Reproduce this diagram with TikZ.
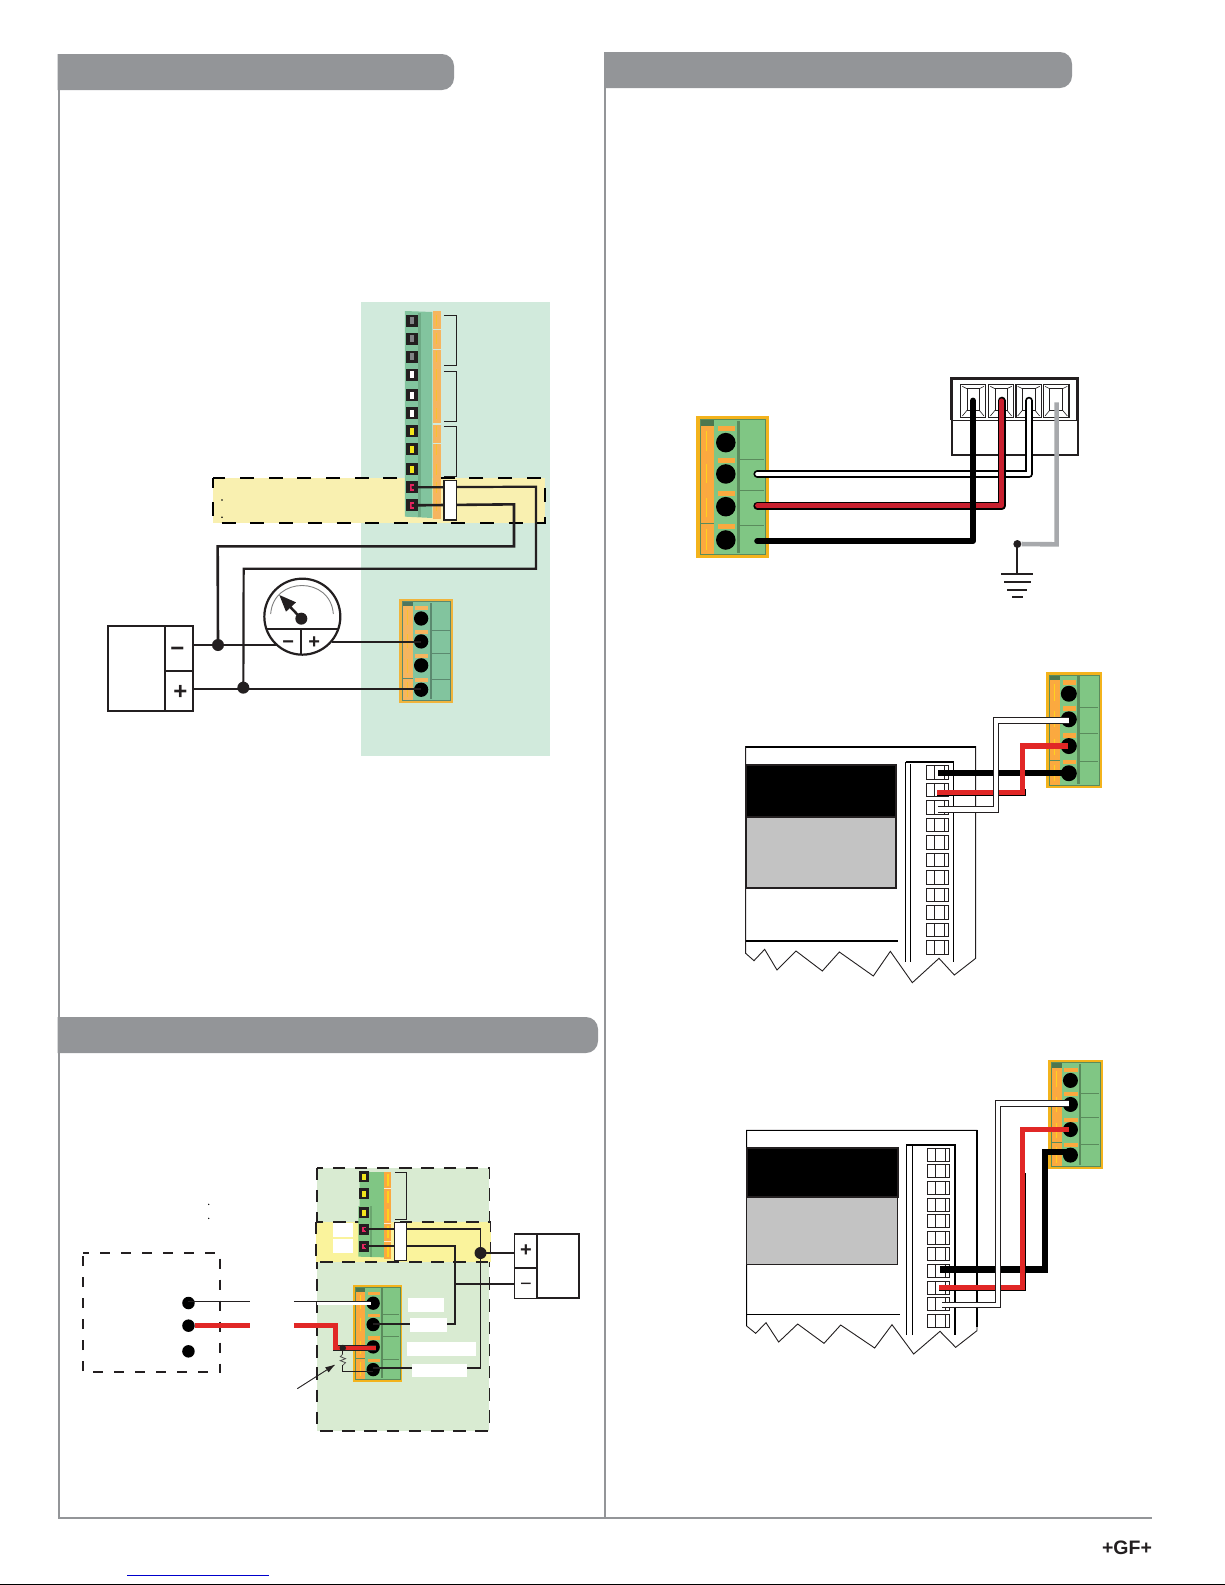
\documentclass[tikz,border=0pt]{standalone}
\usepackage{fontspec}
\setmainfont{Liberation Sans}
\definecolor{hdr}{HTML}{939598}
\definecolor{inkk}{HTML}{231F20}
\definecolor{mintbg}{HTML}{D1EADC}
\definecolor{palegreen}{HTML}{D9EBD2}
\definecolor{bandA}{HTML}{F9F0B0}
\definecolor{bandB}{HTML}{FAF39C}
\definecolor{wirered}{HTML}{E12726}
\definecolor{wiredeep}{HTML}{C8202F}
\definecolor{wiregray}{HTML}{A7A9AC}
\definecolor{linkblue}{HTML}{0000CC}
\definecolor{frameA}{HTML}{F0B43C}\definecolor{orangeA}{HTML}{F6B55F}\definecolor{greenA}{HTML}{82C49E}\definecolor{stripeA}{HTML}{F7C22F}
\definecolor{frameB}{HTML}{F3B31C}\definecolor{orangeB}{HTML}{FBA93F}\definecolor{greenB}{HTML}{80C684}\definecolor{stripeB}{HTML}{FFD21F}
\definecolor{darkA}{HTML}{6FAB86}\definecolor{darkB}{HTML}{6BA66F}
\definecolor{screwgray}{HTML}{808285}\definecolor{screwyellow}{HTML}{F2E51C}\definecolor{screwred}{HTML}{E6245F}
\definecolor{panelgray}{HTML}{C3C3C3}
\tikzset{
  hdrbar/.style={fill=hdr,draw=none},
  rulegray/.style={draw=hdr,line width=2pt},
  wiremid/.style={draw=inkk,line width=2.2pt,line join=miter},
  wirethin/.style={draw=inkk,line width=1.1pt},
  thinink/.style={draw=inkk,line width=0.9pt},
  jdot/.style={circle,fill=inkk,draw=none,minimum size=12pt,inner sep=0pt},
  blackdot/.style={circle,fill=black,draw=none,minimum size=12.5pt,inner sep=0pt},
  pdot/.style={circle,fill=black,draw=none,inner sep=0pt},
  speck/.style={circle,fill=black,draw=none,minimum size=1.8pt,inner sep=0pt},
  signbig/.style={font=\bfseries\fontsize{24}{24}\selectfont,text=inkk,inner sep=0pt},
  signsmall/.style={font=\bfseries\fontsize{20}{20}\selectfont,text=inkk,inner sep=0pt},
  labelgap/.style={fill=white,draw=none},
  wirepath/.style={line join=round,line cap=round},
}
% connector block: #1 name, #2 x0, #3 y0, #4 x1, #5 y1, #6 frame, #7 orange, #8 green, #9 stripe
\newcommand{\conblock}[9]{%
\begin{scope}[shift={(#2,#3)},x={(#4pt-#2pt,0pt)},y={(0pt,#3pt-#5pt)}]
  \fill[#6] (0,0) rectangle (1,1);
  \fill[#7] (.055,.07) rectangle (.25,.98);
  \fill[#8] (.25,.025) rectangle (.955,.975);
  \fill[#8!60!black] (.055,.025) rectangle (.25,.07);
  \draw[#8!70!black,line width=.6pt] (.055,.025) rectangle (.955,.975);
  \fill[#8!70!black] (.565,.035) rectangle (.605,.965);
  \foreach \v in {.306,.527,.772} \draw[#8!70!black,line width=.5pt] (.605,\v) -- (.94,\v);
  \draw[#8!70!black,line width=.5pt] (.055,.76) -- (.25,.76);
  \foreach \a/\b in {.105/.25,.34/.475,.58/.715,.8/.945} \draw[#9,line width=1.1pt] (.15,\a) -- (.15,\b);
  \foreach \a in {.07,.296,.53,.76} \fill[#7] (.3,\a) rectangle (.54,{\a+.038});
  \node[pdot,minimum size={(#5-#3)*.138pt}] (#1a) at (.41,.188) {};
  \node[pdot,minimum size={(#5-#3)*.138pt}] (#1b) at (.41,.409) {};
  \node[pdot,minimum size={(#5-#3)*.138pt}] (#1c) at (.41,.64) {};
  \node[pdot,minimum size={(#5-#3)*.138pt}] (#1d) at (.41,.875) {};
\end{scope}}
% screw terminal of a strip: #1 name, #2 x, #3 y, #4 size in pt, #5 inner colour
\newcommand{\scrw}[5]{%
  \node[fill=inkk,draw=none,inner sep=0pt,minimum size=#4pt] (#1) at (#2,#3) {};
  \fill[#5] ([xshift=-.18*#4pt,yshift=-.27*#4pt]#1.center) rectangle ([xshift=.2*#4pt,yshift=.27*#4pt]#1.center);}
% terminal cell of a controller, in crop units: #1 x0, #2 y0, #3 y1
\newcommand{\tcell}[3]{%
  \draw[thinink,fill=white] (#1,#2) rectangle ({#1+67},#3);
  \draw[thinink] ({#1+24},#2) -- ({#1+24},#3);
  \draw[thinink] ({#1+54},#2) -- ({#1+54},#3);}
% plug cell, in crop units: #1 x0, #2 x1, #3 y0, #4 y1
\newcommand{\plugcell}[4]{%
  \draw[draw=inkk,line width=1.3pt,fill=white] (#1,#3) rectangle (#2,#4);
  \draw[draw=inkk,line width=.6pt] ({#1+19},{#3+12}) rectangle ({#2-19},{#4-22});
  \draw[draw=inkk,line width=.6pt] ({#1+19},{#3+12}) -- ({#1+5},{#3+5});
  \draw[draw=inkk,line width=.6pt] ({#2-19},{#3+12}) -- ({#2-5},{#3+5});
  \draw[draw=inkk,line width=.6pt] ({#1+19},{#4-22}) -- ({#1+5},{#4-5});
  \draw[draw=inkk,line width=.6pt] ({#2-19},{#4-22}) -- ({#2-5},{#4-5});}
\begin{document}
\begin{tikzpicture}[x=1pt,y=-1pt]
\useasboundingbox (0,0) rectangle (1225,1585);
\fill[white] (0,0) rectangle (1225,1585);
% --- page furniture
\draw[rulegray] (59,54) -- (59,1517.5) -- (1152,1517.5);
\draw[rulegray] (605,52) -- (605,1517.5);
\fill[hdrbar] (57.5,54) [rounded corners=12pt] -- (454,54) -- (454,90) [sharp corners] -- (57.5,90) -- cycle;
\fill[hdrbar] (604,52) [rounded corners=12pt] -- (1072,52) -- (1072,88) [sharp corners] -- (604,88) -- cycle;
\fill[hdrbar] (57.5,1017) [rounded corners=12pt] -- (598,1017) -- (598,1053) [sharp corners] -- (57.5,1053) -- cycle;
\node[font=\bfseries\fontsize{19.5}{19.5}\selectfont,text=inkk,inner sep=0pt] (gflogo) at (1127,1547.5) {+GF+};
\draw[linkblue,line width=1pt] (127,1575) -- (268.5,1575);
\draw[black,line width=1.2pt] (0,1584.4) -- (1225,1584.4);
%
% --- panel 1: current loop (crop units: origin 50,290, one third of a pixel)
\begin{scope}[shift={(50,290)},x=.33333pt,y=-.33333pt]
  \fill[mintbg] (933,37) rectangle (1500,1397);
  \fill[bandA] (490,563) rectangle (1486,698);
  \draw[draw=black,line width=1.7pt,dash pattern=on 14pt off 14.7pt,dash phase=4pt] (490,563) rectangle (1486,698);
  \node[speck] (s1) at (516,630) {};
  \node[speck] (s2) at (516,682) {};
  \fill[greenA] (1065,63) -- (1147,66) -- (1147,684) -- (1065,680) -- cycle;
  \fill[darkA] (1105,68) rectangle (1112,680);
  \fill[orangeA] (1149,63) rectangle (1173,687);
  \foreach \y in {118,178,402,460} \draw[mintbg,line width=1.2pt] (1149,\y) -- (1173,\y);
  \foreach \y in {92,146,200,254,316,370,424,478,538,592,646}
    \draw[stripeA,line width=.7pt] (1159,\y-16) -- (1159,\y+16);
  \scrw{ta}{1085}{92}{12}{screwgray}
  \scrw{tb}{1085}{146}{12}{screwgray}
  \scrw{tc}{1085}{200}{12}{screwgray}
  \scrw{td}{1085}{254}{12}{white}
  \scrw{te}{1085}{316}{12}{white}
  \scrw{tf}{1085}{370}{12}{white}
  \scrw{tg}{1085}{424}{12}{screwyellow}
  \scrw{th}{1085}{478}{12}{screwyellow}
  \scrw{ti}{1085}{538}{12}{screwyellow}
  \scrw{tj}{1085}{592}{12}{screwred}
  \scrw{tk}{1085}{646}{12}{screwred}
  \fill[inkk] (1087,590) rectangle (1093,596);
  \fill[inkk] (1087,644) rectangle (1093,650);
  \draw[wirethin] (1182,76) -- (1220,76) -- (1220,226) -- (1182,226);
  \draw[wirethin] (1182,244) -- (1220,244) -- (1220,394) -- (1182,394);
  \draw[wirethin] (1182,409) -- (1220,409) -- (1220,559) -- (1182,559);
  \node[jdot] (j1) at (504,1065) {};
  \node[jdot] (j2) at (580,1193) {};
  \draw[wiremid] (tj.center) -- (1458,590) -- (1458,836) -- (581,836) -- (j2.center);
  \draw[wiremid,line width=2.6pt] (tk.center) -- (1392,643) -- (1392,769) -- (503,769) -- (j1.center);
  \draw[draw=inkk,line width=1.5pt,fill=white] (1182,572) rectangle (1220,690);
  \draw[draw=inkk,line width=2.2pt,fill=white] (174,1009) rectangle (429,1263);
  \draw[draw=inkk,line width=1.8pt] (345,1009) -- (345,1263);
  \draw[draw=inkk,line width=1.8pt] (345,1142) -- (429,1142);
  \node[signbig] (pm) at (382,1085) {−};
  \node[signbig] (pp) at (391,1207) {+};
  \coordinate (pml) at (429,1065);
  \coordinate (ppl) at (429,1197);
  \coordinate (gml) at (680,1065);
  \draw[draw=inkk,line width=1.7pt] (pml) -- (gml);
  \node[circle,draw=inkk,line width=2.2pt,fill=white,minimum size=76pt,inner sep=0pt] (gauge) at (757,980) {};
  \draw[draw=inkk,line width=1.7pt] (650,1016) -- (865,1016);
  \draw[draw=inkk,line width=1.7pt] (753,1020) -- (753,1095);
  \draw[draw=gray,line width=.9pt] (662,972) .. controls (670,858) and (842,858) .. (850,972);
  \draw[draw=inkk,line width=2.5pt] (754,986) -- (720,950);
  \fill[inkk] (688,915) -- (738,937) -- (708,965) -- cycle;
  \node[jdot] (gp) at (754,986) {};
  \node[signsmall] (gm) at (715,1063) {−};
  \node[signsmall] (gpl) at (793,1059) {+};
  \coordinate (gpr) at (845,1056);
\end{scope}
\conblock{ca}{399}{599}{453}{702.7}{frameA}{orangeA}{greenA}{stripeA}
\draw[wiremid] (gpr) -- (cab.center |- gpr);
\draw[draw=inkk,line width=1.7pt] (ppl) -- (ppl -| cad.center);
%
% --- panel 2: PLC loop (crop units: origin 60,1150)
\begin{scope}[shift={(60,1150)},x=.3444pt,y=-.33333pt]
  \fill[palegreen] (746,53) rectangle (1247,843);
  \draw[draw=inkk,line width=1.9pt,dash pattern=on 12.5pt off 9.7pt] (746,53) rectangle (1247,843);
  \fill[bandB] (743,215) rectangle (1250,335);
  \draw[draw=inkk,line width=1.9pt,dash pattern=on 12.5pt off 9.7pt] (743,215) rectangle (1250,335);
  \fill[white] (793,220) rectangle (851,262);
  \fill[white] (793,267) rectangle (851,309);
  \fill[greenB] (870,66) -- (942,66) -- (942,322) -- (866,320) -- (866,168) -- (870,168) -- cycle;
  \fill[darkB] (900,168) rectangle (906,320);
  \fill[orangeB] (942,66) rectangle (961,328);
  \foreach \y in {115,220,275} \draw[white!75!orangeB,line width=.8pt] (942,\y) -- (961,\y);
  \foreach \a/\b in {72/108,123/160,178/212,228/265,285/320}
    \draw[stripeB,line width=1.6pt] (952,\a) -- (952,\b);
  \scrw{pa}{883}{80}{10.5}{screwyellow}
  \scrw{pb}{883}{131}{10.5}{screwyellow}
  \scrw{pc}{883}{188}{10.5}{screwyellow}
  \scrw{pd}{883}{238}{10.5}{screwred}
  \scrw{pe}{883}{289}{10.5}{screwred}
  \fill[inkk] (885,236) rectangle (890,242);
  \fill[inkk] (885,287) rectangle (890,293);
  \draw[wirethin] (972,67) -- (1006,67) -- (1006,208) -- (972,208);
  % left device
  \draw[draw=inkk,line width=1.7pt,dash pattern=on 10pt off 11pt,dash phase=4pt] (67,308) -- (465,308) -- (465,667) -- (67,667) -- cycle;
  \node[blackdot] (da) at (373,459) {};
  \node[blackdot] (db) at (373,527) {};
  \node[blackdot] (dc) at (373,604) {};
  \node[speck,minimum size=1.4pt] (s3) at (432,163) {};
  \node[speck,minimum size=1.4pt] (s4) at (432,205) {};
\end{scope}
\conblock{cb}{353.1}{1285}{402}{1381.7}{frameB}{orangeB}{greenB}{stripeB}
\begin{scope}[shift={(60,1150)},x=.3444pt,y=-.33333pt]
  \node[jdot,minimum size=12pt] (dplus) at (1221,309) {};
  \coordinate (psp) at (1320,309);
  \coordinate (psm) at (1320,401);
  \draw[wiremid,line width=1.9pt] (pd.center) -- (1221,238) -- (1221,654) -- (cbd.center |- 1221,654);
  \draw[wiremid,line width=1.9pt] (pe.center) -- (1148,289) -- (1148,522) -- (cbb.center |- 1148,522);
  \draw[wiremid,line width=1.9pt] (dplus.center) -- (psp);
  \draw[wiremid,line width=1.9pt] (1148,401) -- (psm);
  \draw[draw=inkk,line width=1.2pt,fill=white] (972,217) rectangle (1006,331);
  \fill[labelgap] (1010,444) rectangle (1115,486);
  \fill[labelgap] (1016,504) rectangle (1124,546);
  \fill[labelgap] (1008,576) rectangle (1208,618);
  \fill[labelgap] (1022,642) rectangle (1182,681);
  % power supply
  \draw[draw=inkk,line width=1.2pt,fill=white] (1320,251) rectangle (1386,445);
  \draw[draw=inkk,line width=1.8pt] (1320,354) -- (1386,354);
  \draw[draw=inkk,line width=1.8pt] (1320,251) -- (1507,251) -- (1507,445) -- (1385,445) -- (1385,251);
  \node[signsmall] (ppl2) at (1353,303) {+};
  \node[font=\fontsize{20}{20}\selectfont,text=inkk,inner sep=0pt] (pmn2) at (1353,411) {−};
  % white wire
  \coordinate (wa) at (552,454);
  \coordinate (wb) at (679,454);
  \coordinate (wc) at (900,454);
  \draw[white,line width=3.6pt] (746,461) -- (902,461);
  \draw[draw=inkk,line width=1.1pt] (da.center |- wa) -- (wa);
  \draw[draw=inkk,line width=1.1pt] (wb) -- (wc);
  % red wire
  \coordinate (ra) at (552,527);
  \coordinate (rb) at (679,527);
  \draw[wirered,line width=4.8pt] (db) -- (ra);
  \draw[draw=inkk,line width=.9pt] (808,587) -- (918,587);
  \draw[draw=inkk,line width=.9pt] (793,601) -- (918,601);
  \draw[draw=inkk,line width=1pt] (821,594) -- (821,612);
  \draw[draw=gray!60!black,line width=.8pt] (821,612) -- (814,620) -- (829,626) -- (814,632) -- (829,638) -- (821,646);
  \draw[draw=inkk,line width=.9pt] (821,646) -- (821,664) -- (cbd.center |- 821,664);
  \draw[wirered,line width=4.8pt,line join=miter] (rb) -- (800,527) -- (800,594) -- (918,594);
  \node[circle,fill=inkk,draw=none,minimum size=6.5pt,inner sep=0pt] (rj) at (821,594) {};
  % leader arrow
  \coordinate (la) at (689,716);
  \coordinate (lb) at (797,645);
  \draw[draw=inkk,line width=.9pt] (la) -- (lb);
  \fill[inkk] (797,645) -- (770,652) -- (780,667) -- cycle;
\end{scope}
%
% --- panel 3: sensor plug (crop units: origin 680,370)
\conblock{cc}{696}{416}{768.7}{557.7}{frameB}{orangeB}{greenB}{stripeB}
\begin{scope}[shift={(680,370)},x=.33333pt,y=-.33333pt]
  \draw[draw=inkk,line width=1.8pt,fill=white] (815,25) rectangle (1193,256);
  \draw[draw=inkk,line width=2.4pt] (815,150) -- (815,25) -- (1193,25) -- (1193,150);
  \draw[draw=inkk,line width=.9pt] (815,151) -- (1193,151);
  \plugcell{842}{917}{44}{143}
  \plugcell{926}{1000}{44}{143}
  \plugcell{1008}{1084}{44}{143}
  \plugcell{1090}{1167}{44}{143}
  \coordinate (wwa) at (232,312);  \coordinate (wwb) at (1047,92);
  \coordinate (wra) at (232,407);  \coordinate (wrb) at (965,92);
  \coordinate (wka) at (232,513);  \coordinate (wkb) at (879,92);
  \coordinate (wga) at (1130,97);
  \node[circle,fill=inkk,draw=none,minimum size=8pt,inner sep=0pt] (gnd) at (1012,522) {};
  \draw[wirepath,draw=black,line width=7.8pt] (wwa) -- (1047,312) -- (wwb);
  \draw[wirepath,draw=white,line width=4.2pt] (wwa) -- (1047,312) -- (wwb);
  \draw[wirepath,draw=black,line width=8pt] (wra) -- (965,407) -- (wrb);
  \draw[wirepath,draw=wiredeep,line width=4.4pt] (wra) -- (965,407) -- (wrb);
  \draw[wirepath,draw=black,line width=6.2pt] (wka) -- (879,513) -- (wkb);
  \draw[draw=wiregray,line width=4.6pt] (wga) -- (1130,523) -- (gnd);
  \coordinate (gb) at (1012,612);
  \draw[draw=inkk,line width=1.8pt] (gnd.center) -- (gb);
  \foreach \y/\a/\b in {612/964/1060,635/972/1052,660/982/1042,680/996/1030}
    \draw[draw=inkk,line width=1.9pt] (\a,\y) -- (\b,\y);
\end{scope}
%
% --- panel 4: controller, first wiring (crop units: origin 730,660)
\conblock{cd}{1046}{672}{1101.7}{787.7}{frameB}{orangeB}{greenB}{stripeB}
\begin{scope}[shift={(730,660)},x=.33333pt,y=-.33333pt]
  \draw[draw=inkk,line width=.9pt,fill=white] (47,260) -- (737,260) -- (737,895) -- (673,945) -- (627,895) -- (547,968) -- (481,874) -- (430,948) -- (328,876) -- (277,933) -- (198,873) -- (141,930) -- (104,868) -- (72,902) -- (47,880) -- cycle;
  \draw[draw=black,line width=1.8pt] (47,260) -- (737,260);
  \draw[draw=inkk,line width=2pt,fill=black] (47,314) rectangle (499,470);
  \draw[draw=inkk,line width=2pt,fill=panelgray] (47,470) rectangle (499,685);
  \draw[draw=black,line width=1.7pt] (47,842) -- (503,842);
  \draw[draw=black,line width=.9pt] (527,905) -- (527,305);
  \draw[draw=black,line width=.9pt] (541,905) -- (541,312);
  \draw[draw=black,line width=.9pt] (670,905) -- (670,305);
  \draw[draw=black,line width=1.7pt] (527,305) -- (671,305);
  \foreach \a/\b in {316/358,370/410,421/463,475/514,526/568,580/619,631/673,685/724,736/778,790/829,841/883}
    \tcell{589}{\a}{\b}
  \coordinate (k4) at (624,336);
  \draw[black,line width=6.2pt] (cdd.center) -- (cdd.center -| k4);
  \draw[draw=black,line width=1.1pt] (1015,251) -- (871,251) -- (871,388);
  \draw[draw=black,line width=1.1pt] (886,388) -- (886,406) -- (622,406);
  \draw[wirered,line width=5.3pt] (1015,258) -- (878,258) -- (878,397) -- (622,397);
  \draw[white,line width=5pt] (1018,181) -- (798,181) -- (798,448) -- (624,448);
  \draw[draw=inkk,line width=1.1pt] (1018,173) -- (791,173) -- (791,439) -- (624,439);
  \draw[draw=inkk,line width=1.1pt] (1018,190) -- (805,190) -- (805,457) -- (624,457);
\end{scope}
%
% --- panel 5: controller, second wiring (crop units: origin 730,1050)
\conblock{ce}{1048}{1060}{1102.7}{1168.7}{frameB}{orangeB}{greenB}{stripeB}
\begin{scope}[shift={(730,1050)},x=.33333pt,y=-.33333pt]
  \draw[draw=inkk,line width=.9pt,fill=white] (50,241) -- (741,241) -- (741,842) -- (677,892) -- (630,844) -- (551,912) -- (486,824) -- (434,894) -- (332,825) -- (282,880) -- (203,822) -- (146,876) -- (108,818) -- (77,850) -- (50,828) -- cycle;
  \draw[draw=black,line width=1.5pt] (50,828) -- (50,241) -- (741,241) -- (741,830);
  \draw[draw=inkk,line width=2pt,fill=black] (50,295) rectangle (503,442);
  \draw[draw=inkk,line width=1.2pt,fill=panelgray] (50,442) rectangle (503,643);
  \draw[draw=inkk,line width=2.2pt] (50,442) -- (503,442);
  \draw[draw=black,line width=.9pt] (50,793) -- (510,793);
  \draw[draw=black,line width=1.6pt] (530,855) -- (530,285) -- (675,285) -- (675,855);
  \draw[draw=black,line width=.9pt] (547,855) -- (547,287);
  \foreach \a/\b in {295/335,343/383,394/434,445/485,493/533,544/584,592/632,643/683,694/734,742/782,793/833}
    \tcell{592}{\a}{\b}
  \coordinate (kk) at (945,306);
  \draw[black,line width=6.4pt,line join=miter] (ced.center |- kk) -- (kk) -- (945,658) -- (631,658);
  \draw[draw=black,line width=1.1pt] (1017,232) -- (871,232) -- (871,370);
  \draw[draw=black,line width=1.1pt] (887,370) -- (887,720) -- (627,720);
  \draw[wirered,line width=5.6pt] (1017,239) -- (878,239) -- (878,712) -- (627,712);
  \draw[white,line width=4.6pt] (1017,161) -- (804,161) -- (804,765) -- (636,765);
  \draw[draw=inkk,line width=1.6pt] (1017,152) -- (797,152) -- (797,757);
  \draw[draw=inkk,line width=1pt] (797,757) -- (636,757);
  \draw[draw=inkk,line width=1pt] (1017,170) -- (811,170) -- (811,772) -- (636,772);
\end{scope}
\end{tikzpicture}
\end{document}
